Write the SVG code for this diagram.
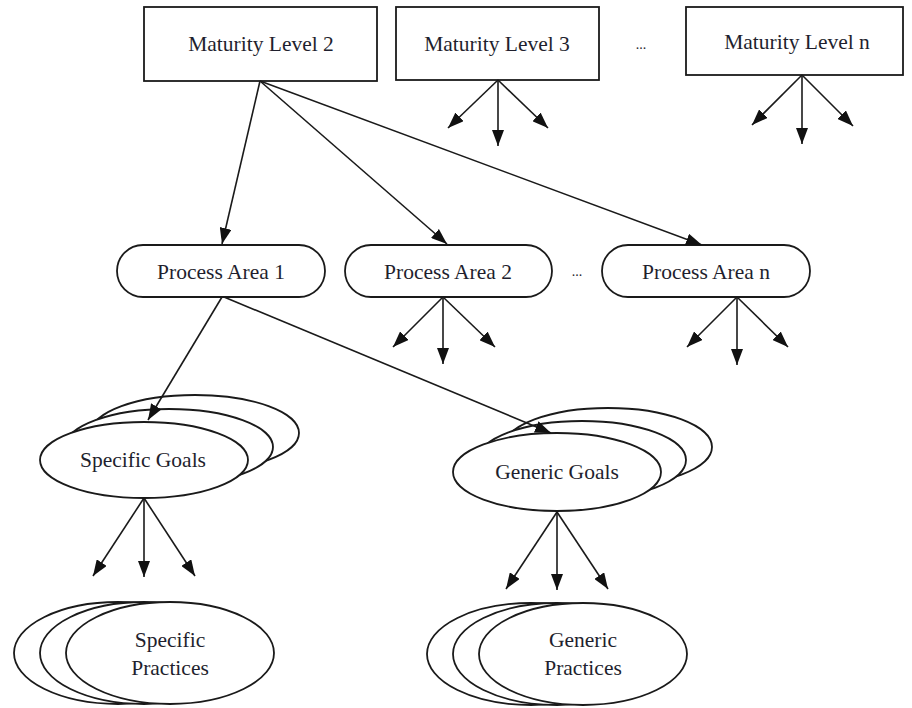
<svg xmlns="http://www.w3.org/2000/svg" width="912" height="708" viewBox="0 0 912 708">
<style>
  .box { fill: #fff; stroke: #1a1a1a; stroke-width: 1.8; }
  .ell { fill: #fff; stroke: #1a1a1a; stroke-width: 1.8; }
  .lbl { font-family: "Liberation Serif", "Times New Roman", serif; font-size: 21.5px; fill: #1f1f2e; text-anchor: middle; }
  .conn line { stroke: #1a1a1a; stroke-width: 1.6; marker-end: url(#ah); }
</style>
<defs>
  <marker id="ah" markerUnits="userSpaceOnUse" markerWidth="17" markerHeight="12" viewBox="0 0 17 12" refX="16" refY="6" orient="auto">
    <path d="M0,0 L16,6 L0,12 z" fill="#111"/>
  </marker>
</defs>
<rect width="912" height="708" fill="#fff"/>

<g id="ml2"><rect class="box" x="144" y="7" width="233" height="74"/><text class="lbl" x="261" y="51">Maturity Level 2</text></g>
<g id="ml3"><rect class="box" x="396" y="7" width="203" height="73"/><text class="lbl" x="497" y="51">Maturity Level 3</text></g>
<text class="lbl" x="641" y="49" style="font-size:14px">...</text>
<g id="mln"><rect class="box" x="686" y="7" width="217" height="68"/><text class="lbl" x="797" y="49">Maturity Level n</text></g>

<g id="pa1"><rect class="box" x="117" y="245" width="208" height="52" rx="26"/><text class="lbl" x="221" y="279">Process Area 1</text></g>
<g id="pa2"><rect class="box" x="345" y="245" width="207" height="52" rx="26"/><text class="lbl" x="448" y="279">Process Area 2</text></g>
<text class="lbl" x="577" y="276" style="font-size:14px">...</text>
<g id="pan"><rect class="box" x="602" y="245" width="208" height="52" rx="26"/><text class="lbl" x="706" y="279">Process Area n</text></g>

<g id="sg">
  <ellipse class="ell" cx="195" cy="433" rx="104" ry="38"/>
  <ellipse class="ell" cx="169" cy="447" rx="104" ry="38"/>
  <ellipse class="ell" cx="144" cy="460" rx="104" ry="38"/>
  <text class="lbl" x="143" y="467">Specific Goals</text>
</g>
<g id="gg">
  <ellipse class="ell" cx="608" cy="447" rx="104" ry="39"/>
  <ellipse class="ell" cx="582" cy="460" rx="104" ry="39"/>
  <ellipse class="ell" cx="557" cy="472" rx="104" ry="39"/>
  <text class="lbl" x="557" y="479">Generic Goals</text>
</g>
<g id="sp">
  <ellipse class="ell" cx="118" cy="653" rx="104" ry="51"/>
  <ellipse class="ell" cx="144" cy="653" rx="104" ry="51"/>
  <ellipse class="ell" cx="170" cy="653" rx="104" ry="51"/>
  <text class="lbl" x="170" y="647">Specific</text>
  <text class="lbl" x="170" y="675">Practices</text>
</g>
<g id="gp">
  <ellipse class="ell" cx="531" cy="654" rx="104" ry="51"/>
  <ellipse class="ell" cx="557" cy="654" rx="104" ry="51"/>
  <ellipse class="ell" cx="583" cy="654" rx="104" ry="51"/>
  <text class="lbl" x="583" y="647">Generic</text>
  <text class="lbl" x="583" y="675">Practices</text>
</g>

<g class="conn" id="connectors">
  <line x1="260" y1="81" x2="222" y2="244"/>
  <line x1="260" y1="81" x2="447" y2="244"/>
  <line x1="260" y1="81" x2="702" y2="245"/>
  <line x1="498" y1="80" x2="448" y2="128"/>
  <line x1="498" y1="80" x2="498" y2="146"/>
  <line x1="498" y1="80" x2="548" y2="128"/>
  <line x1="802" y1="75" x2="752" y2="125"/>
  <line x1="802" y1="75" x2="802" y2="144"/>
  <line x1="802" y1="75" x2="853" y2="126"/>
  <line x1="443" y1="297" x2="393" y2="347"/>
  <line x1="443" y1="297" x2="443" y2="364"/>
  <line x1="443" y1="297" x2="495" y2="347"/>
  <line x1="737" y1="297" x2="687" y2="347"/>
  <line x1="737" y1="297" x2="737" y2="365"/>
  <line x1="737" y1="297" x2="788" y2="347"/>
  <line x1="222" y1="297" x2="148" y2="420"/>
  <line x1="224" y1="297" x2="551" y2="433"/>
  <line x1="144" y1="498" x2="93" y2="576"/>
  <line x1="144" y1="498" x2="144" y2="577"/>
  <line x1="144" y1="498" x2="195" y2="576"/>
  <line x1="557" y1="512" x2="506" y2="589"/>
  <line x1="557" y1="512" x2="557" y2="590"/>
  <line x1="557" y1="512" x2="608" y2="589"/>
</g>
</svg>
